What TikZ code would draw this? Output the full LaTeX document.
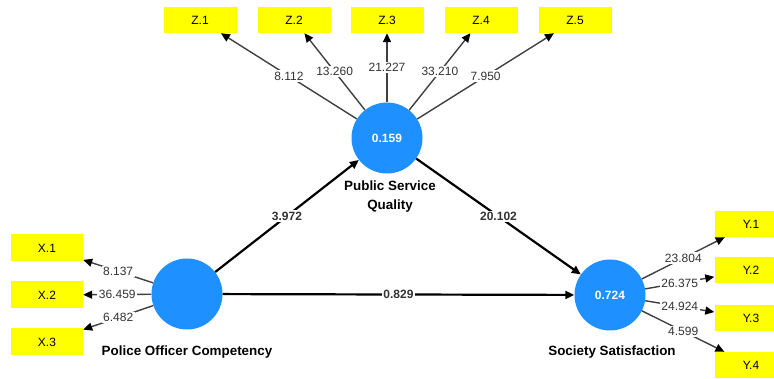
\documentclass[tikz,border=0pt]{standalone}
\usepackage{fontspec}
\setsansfont{Liberation Sans}
\usetikzlibrary{arrows.meta}
\definecolor{lvblue}{RGB}{30,144,255}
\definecolor{lvyellow}{RGB}{255,255,0}
\definecolor{loadgray}{RGB}{64,64,64}

\begin{document}
\begin{tikzpicture}[x=1pt,y=-1pt,>={Triangle[length=9pt,width=8pt,color=black]},font=\sffamily,
    latent/.style={circle,fill=lvblue,minimum size=71pt,inner sep=0pt,text=white,
        font=\sffamily\bfseries\fontsize{12}{14}\selectfont},
    indicator/.style={fill=lvyellow,minimum width=73pt,minimum height=26pt,inner sep=0pt,
        font=\sffamily\fontsize{12}{14}\selectfont},
    lvname/.style={align=center,font=\sffamily\bfseries\fontsize{13.4}{19}\selectfont},
    loading/.style={->,draw=loadgray,line width=1.4pt},
    inner/.style={->,draw=black,line width=2.2pt},
    weight/.style={fill=white,inner sep=1.5pt,text=black!80,font=\sffamily\fontsize{12}{14}\selectfont},
    coef/.style={weight,font=\sffamily\bfseries\fontsize{12}{14}\selectfont}]

    \useasboundingbox (0,0) rectangle (774,379);
    \clip (0,0) rectangle (774,379);

    % Latent variables
    \node [latent] (psq) at (387,138) {0.159};
    \node [latent] (poc) at (187,294) {};
    \node [latent] (ss) at (610,295) {0.724};

    \node [lvname] (psqname) at (390,197) {Public Service\\Quality};
    \node [lvname] (pocname) at (187,352) {Police Officer Competency};
    \node [lvname] (ssname) at (612,352) {Society Satisfaction};

    % Indicators of Public Service Quality
    \node [indicator] (z1) at (200,20) {Z.1};
    \node [indicator] (z2) at (294,20) {Z.2};
    \node [indicator] (z3) at (387,20) {Z.3};
    \node [indicator] (z4) at (481,20) {Z.4};
    \node [indicator] (z5) at (575,20) {Z.5};

    % Indicators of Police Officer Competency
    \node [indicator,minimum width=72pt,minimum height=27pt] (x1) at (47,248) {X.1};
    \node [indicator,minimum width=72pt,minimum height=27pt] (x2) at (47,295) {X.2};
    \node [indicator,minimum width=72pt,minimum height=27pt] (x3) at (47,342) {X.3};

    % Indicators of Society Satisfaction
    \node [indicator] (y1) at (751,224) {Y.1};
    \node [indicator] (y2) at (751,270.5) {Y.2};
    \node [indicator] (y3) at (751,318) {Y.3};
    \node [indicator] (y4) at (751,365) {Y.4};

    % Outer loadings
    \draw [loading] (psq) -- (z1) node [weight,midway] {8.112};
    \draw [loading] (psq) -- (z2) node [weight,midway] {13.260};
    \draw [loading] (psq) -- (z3) node [weight,midway] {21.227};
    \draw [loading] (psq) -- (z4) node [weight,midway] {33.210};
    \draw [loading] (psq) -- (z5) node [weight,midway] {7.950};

    \draw [loading] (poc) -- (x1) node [weight,midway] {8.137};
    \draw [loading] (poc) -- (x2) node [weight,midway] {36.459};
    \draw [loading] (poc) -- (x3) node [weight,midway] {6.482};

    \draw [loading] (ss) -- (y1) node [weight,midway] {23.804};
    \draw [loading] (ss) -- (y2) node [weight,midway] {26.375};
    \draw [loading] (ss) -- (y3) node [weight,midway] {24.924};
    \draw [loading] (ss) -- (y4) node [weight,midway] {4.599};

    % Inner model paths
    \draw [inner] (poc) -- (psq) node [coef,midway] {3.972};
    \draw [inner] (psq) -- (ss) node [coef,midway] {20.102};
    \draw [inner] (poc) -- (ss) node [coef,midway] {0.829};

\end{tikzpicture}
\end{document}
